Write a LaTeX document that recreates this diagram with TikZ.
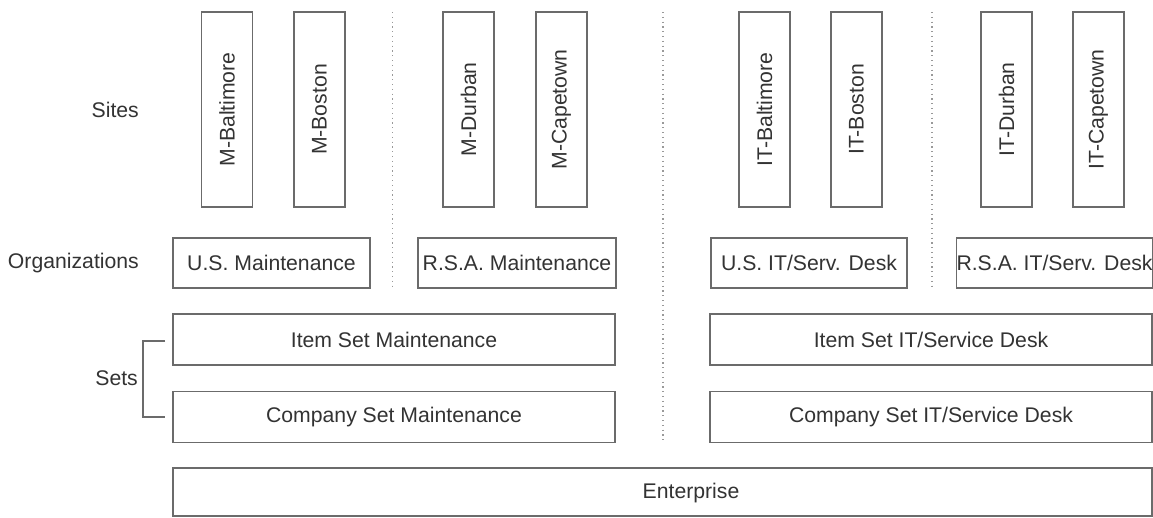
\documentclass[tikz,border=0pt]{standalone}
\usepackage{fontspec}
\setmainfont{Liberation Sans}
\begin{document}
\begin{tikzpicture}[x=1pt,y=-1pt,
  every node/.style={text=black!80, font=\fontsize{21.2}{25}\selectfont},
  box/.style={draw=black!58, line width=1.6pt, inner sep=0pt, fill=white},
  sitebox/.style={box, rotate=90, minimum width=195pt, minimum height=51pt},
  orgbox/.style={box, minimum height=50pt},
  setbox/.style={box, minimum width=442pt, minimum height=51pt},
  levellabel/.style={anchor=east, inner sep=0pt},
  divider/.style={draw=black!40, line width=1.1pt, dash pattern=on 1.2pt off 3.6pt},
  bracket/.style={draw=black!58, line width=1.5pt}]
\useasboundingbox[fill=white] (0,0) rectangle (1153,517);

% separators between the groups
\coordinate (d1t) at (392.5,12);  \coordinate (d1b) at (392.5,288);
\coordinate (d2t) at (663,12);    \coordinate (d2b) at (663,443);
\coordinate (d3t) at (932,12);    \coordinate (d3b) at (932,290);
\draw[divider] (d1t) -- (d1b);
\draw[divider] (d2t) -- (d2b);
\draw[divider] (d3t) -- (d3b);

% level labels
\node[levellabel] (lsites) at (139,110) {Sites};
\node[levellabel] (lorgs)  at (139,263) {Organizations};
\node[levellabel] (lsets)  at (138,378) {Sets};

% bracket grouping the two set rows
\coordinate (bt) at (165,341);
\coordinate (bb) at (165,417);
\draw[bracket] (bt) -- ++(-22,0) |- (bb);

% sites
\node[sitebox] (mbal) at (227,109.5)   {M-Baltimore};
\node[sitebox] (mbos) at (319.5,109.5) {M-Boston};
\node[sitebox] (mdur) at (468.5,109.5) {M-Durban};
\node[sitebox] (mcap) at (561.5,109.5) {M-Capetown};
\node[sitebox] (ibal) at (764.5,109.5) {IT-Baltimore};
\node[sitebox] (ibos) at (856.5,109.5) {IT-Boston};
\node[sitebox] (idur) at (1006.5,109.5) {IT-Durban};
\node[sitebox] (icap) at (1098.5,109.5) {IT-Capetown};

% organizations
\node[orgbox, minimum width=197pt] (usm)  at (271.5,263) {U.S. Maintenance};
\node[orgbox, minimum width=198pt] (rsam) at (517,263)   {R.S.A. Maintenance};
\node[orgbox, minimum width=196pt] (usit) at (809,263)   {U.S. IT/Serv. Desk};
\node[orgbox, minimum width=195pt] (rsait) at (1054.5,263) {R.S.A. IT/Serv. Desk};

% sets
\node[setbox] (ismaint) at (394,339.5) {Item Set Maintenance};
\node[setbox] (csmaint) at (394,417)   {Company Set Maintenance};
\node[setbox] (isit)    at (931,339.5) {Item Set IT/Service Desk};
\node[setbox] (csit)    at (931,417)   {Company Set IT/Service Desk};

% enterprise
\node[box, minimum width=979pt, minimum height=48pt] (ent) at (662.5,492) {};
\node (entlabel) at (691,493) {Enterprise};
\end{tikzpicture}
\end{document}
